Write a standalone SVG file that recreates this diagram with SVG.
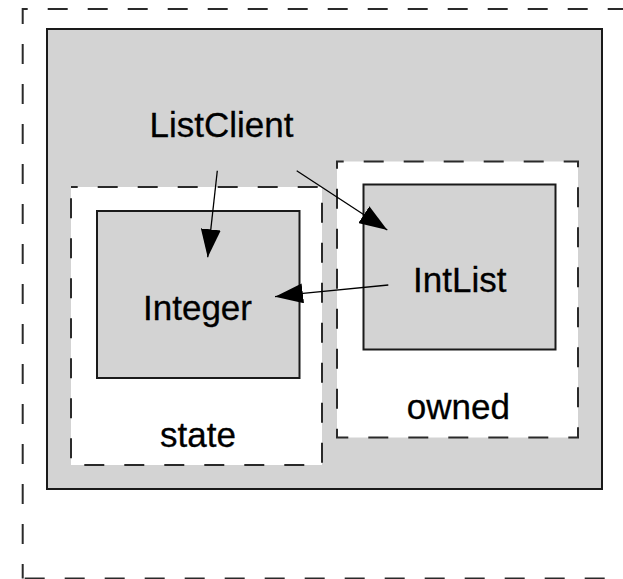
<svg xmlns="http://www.w3.org/2000/svg" width="623" height="579" viewBox="0 0 623 579">
<style>
  .dash { fill: none; stroke: #2a2a2a; stroke-width: 2; stroke-dasharray: 20 20; }
  .region { fill: #ffffff; stroke: #2a2a2a; stroke-width: 2; stroke-dasharray: 20 20; stroke-dashoffset: 13.3; }
  .cls { fill: #d3d3d3; stroke: #1a1a1a; stroke-width: 2; }
  .lbl { font-family: "Liberation Sans", Arial, Helvetica, sans-serif; font-size: 35px; fill: #000; text-anchor: middle; stroke: #000; stroke-width: 0.3; }
  .conn { fill: none; stroke: #000; stroke-width: 1.3; marker-end: url(#arrow); }
</style>
<defs>
  <marker id="arrow" markerUnits="userSpaceOnUse" markerWidth="28" markerHeight="20" refX="28" refY="10" orient="auto">
    <path d="M0,0 L28,10 L0,20 Z" fill="#000"/>
  </marker>
</defs>
<rect width="623" height="579" fill="#ffffff"/>
<g id="frame">
  <path class="dash" d="M22.7,578.5 V9 H640" style="stroke-dashoffset:5.5"/>
  <path class="dash" d="M22.7,578.5 H640" style="stroke-dashoffset:-2"/>
</g>
<g id="container">
  <rect class="cls" x="47" y="29" width="555" height="460"/>
</g>
<g id="ListClient">
  <text class="lbl" x="221.5" y="137">ListClient</text>
</g>
<g id="state">
  <rect class="region" x="71" y="187" width="251" height="278"/>
  <text class="lbl" x="198" y="446.7">state</text>
</g>
<g id="owned">
  <rect class="region" x="337" y="161.5" width="241" height="276"/>
  <text class="lbl" x="458.3" y="419.3">owned</text>
</g>
<g id="Integer">
  <rect class="cls" x="97" y="211" width="202.5" height="167"/>
  <text class="lbl" x="197.5" y="320">Integer</text>
</g>
<g id="IntList">
  <rect class="cls" x="363.5" y="184.5" width="192" height="165"/>
  <text class="lbl" x="459.8" y="292.3">IntList</text>
</g>
<g id="connectors">
  <path class="conn" d="M217.3,170.7 L207.7,257.3"/>
  <path class="conn" d="M296.7,170.7 L387.3,230"/>
  <path class="conn" d="M388.3,285 L303,293.3 L275,296.7"/>
</g>
</svg>
